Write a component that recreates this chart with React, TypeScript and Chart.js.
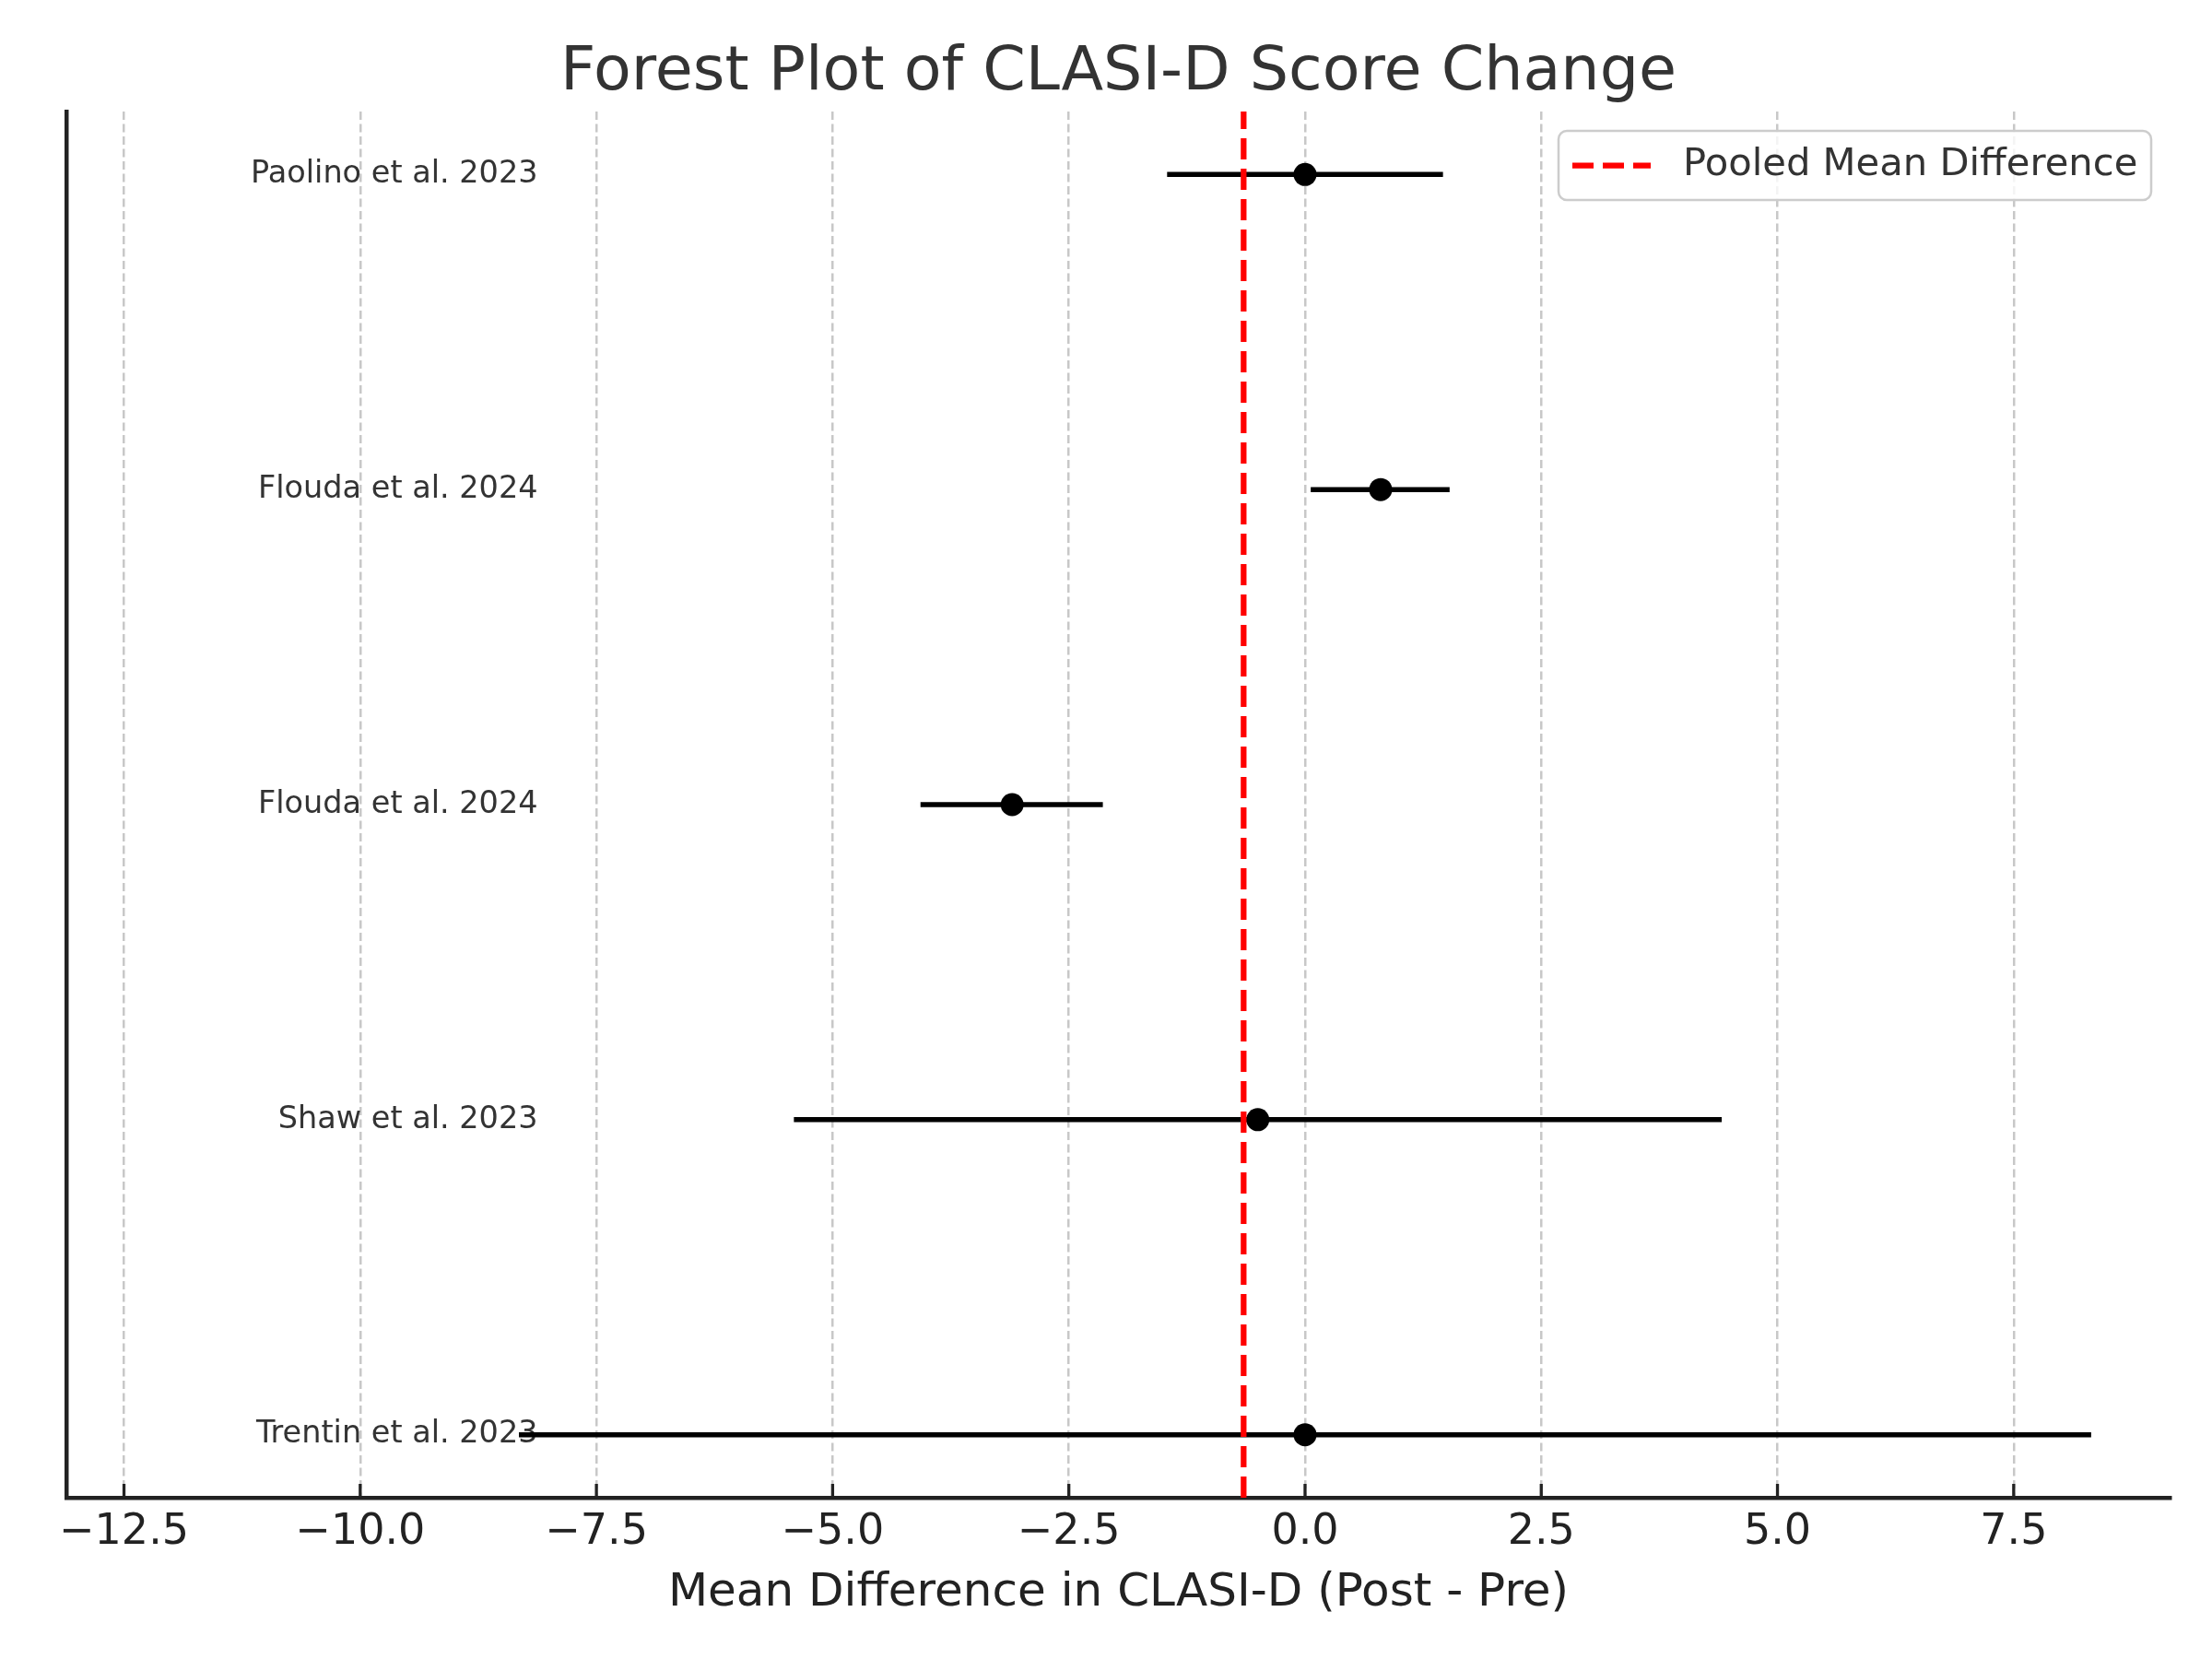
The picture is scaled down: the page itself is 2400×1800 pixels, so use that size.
import React, { useEffect, useRef } from "react";
import { Chart, registerables } from "chart.js";

Chart.register(...registerables);

// ---- data (top row first) ----
const studies = [
  "Paolino et al. 2023",
  "Flouda et al. 2024",
  "Flouda et al. 2024",
  "Shaw et al. 2023",
  "Trentin et al. 2023",
];
const meanDiff = [0.0, 0.8, -3.1, -0.5, 0.0];
const ciLower = [-1.46, 0.06, -4.07, -5.41, -8.32];
const ciUpper = [1.46, 1.53, -2.14, 4.41, 8.32];
const pooledMeanDifference = -0.65;

const chartTitle = "Forest Plot of CLASI-D Score Change";
const xAxisLabel = "Mean Difference in CLASI-D (Post - Pre)";
const legendLabel = "Pooled Mean Difference";

// axis limits
const xMin = -13.11;
const xMax = 9.16;
const xStep = 2.5;
const yMin = -0.2;
const yMax = 4.2;
const labelAnchorX = -8.12; // right edge of study labels (data units)

const rowY = studies.map((_, i) => studies.length - 1 - i);

const FONT = "'DejaVu Sans', 'Liberation Sans', sans-serif";
const RED = "#ff0000";

const fmtTick = (v: number) => {
  const s = Math.abs(v).toFixed(1);
  return v < 0 ? "\u2212" + s : s;
};

const decorPlugin = {
  id: "decor",
  beforeDatasetsDraw(chart: any) {
    const { ctx, chartArea, scales } = chart;
    const xs = scales.x;
    const ys = scales.y;
    ctx.save();
    // inward tick marks
    ctx.strokeStyle = "#222222";
    ctx.lineWidth = 3.3;
    xs.ticks.forEach((t: any) => {
      const px = xs.getPixelForValue(t.value);
      ctx.beginPath();
      ctx.moveTo(px, chartArea.bottom);
      ctx.lineTo(px, chartArea.bottom - 15);
      ctx.stroke();
    });
    // study labels
    ctx.font = `33.5px ${FONT}`;
    ctx.fillStyle = "#333333";
    ctx.textAlign = "right";
    ctx.textBaseline = "middle";
    const lx = xs.getPixelForValue(labelAnchorX);
    studies.forEach((s, i) => {
      ctx.fillText(s, lx, ys.getPixelForValue(rowY[i]));
    });
    ctx.restore();
  },
  afterDraw(chart: any) {
    const { ctx, chartArea } = chart;
    const cx = (chartArea.left + chartArea.right) / 2;
    ctx.save();
    // title
    ctx.font = `66.7px ${FONT}`;
    ctx.fillStyle = "#333333";
    ctx.textAlign = "center";
    ctx.textBaseline = "alphabetic";
    ctx.fillText(chartTitle, cx, chartArea.top - 24);
    // x label
    ctx.font = `50px ${FONT}`;
    ctx.fillStyle = "#222222";
    ctx.fillText(xAxisLabel, cx, chartArea.bottom + 117);

    // legend
    const bw = 643;
    const bh = 75;
    const bx = chartArea.right - 21 - bw;
    const by = chartArea.top + 21;
    ctx.beginPath();
    (ctx as any).roundRect(bx, by, bw, bh, 9);
    ctx.fillStyle = "rgba(255,255,255,0.8)";
    ctx.fill();
    ctx.strokeStyle = "#cccccc";
    ctx.lineWidth = 2.5;
    ctx.stroke();
    const ly = by + bh / 2;
    ctx.beginPath();
    ctx.setLineDash([23, 10]);
    ctx.strokeStyle = RED;
    ctx.lineWidth = 6.25;
    ctx.moveTo(bx + 15, ly);
    ctx.lineTo(bx + 100, ly);
    ctx.stroke();
    ctx.setLineDash([]);
    ctx.font = `41.7px ${FONT}`;
    ctx.fillStyle = "#333333";
    ctx.textAlign = "left";
    ctx.textBaseline = "middle";
    ctx.fillText(legendLabel, bx + 135, ly);
    ctx.restore();
  },
};

export default function App() {
  const ref = useRef<HTMLCanvasElement | null>(null);

  useEffect(() => {
    if (!ref.current) return;

    const ciDatasets = studies.map((s, i) => ({
      type: "line" as const,
      label: s,
      data: [
        { x: ciLower[i], y: rowY[i] },
        { x: ciUpper[i], y: rowY[i] },
      ],
      borderColor: "#000000",
      borderWidth: 5.5,
      borderCapStyle: "butt" as const,
      pointRadius: 0,
      showLine: true,
      fill: false,
      clip: 0,
    }));

    const chart = new Chart(ref.current, {
      type: "scatter",
      data: {
        datasets: [
          {
            type: "line",
            label: legendLabel,
            data: [
              { x: pooledMeanDifference, y: yMin },
              { x: pooledMeanDifference, y: yMax },
            ],
            borderColor: RED,
            borderWidth: 6.25,
            borderDash: [23, 10],
            borderCapStyle: "butt",
            pointRadius: 0,
            showLine: true,
            fill: false,
            clip: 0,
          } as any,
          {
            type: "scatter",
            label: "Mean",
            data: meanDiff.map((m, i) => ({ x: m, y: rowY[i] })),
            backgroundColor: "#000000",
            borderWidth: 0,
            pointRadius: 12.5,
            pointHoverRadius: 12.5,
          } as any,
          ...(ciDatasets as any[]),
        ],
      },
      options: {
        animation: false,
        responsive: false,
        devicePixelRatio: 1,
        events: [],
        layout: { padding: { left: 72, right: 45, top: 121, bottom: 0 } },
        plugins: {
          legend: { display: false },
          title: { display: false },
          tooltip: { enabled: false },
        },
        scales: {
          x: {
            type: "linear",
            min: xMin,
            max: xMax,
            afterFit: (scale: any) => {
              scale.height = 175;
            },
            ticks: {
              stepSize: xStep,
              includeBounds: false,
              callback: (v: any) => fmtTick(Number(v)),
              font: { family: FONT, size: 46 },
              color: "#222222",
              padding: 10,
              maxRotation: 0,
              autoSkip: false,
            },
            grid: {
              color: "#c8c8c8",
              lineWidth: 2.5,
              drawTicks: false,
            },
            border: {
              display: true,
              color: "#222222",
              width: 4.5,
              dash: [9, 4.5],
            },
          },
          y: {
            type: "linear",
            min: yMin,
            max: yMax,
            afterFit: (scale: any) => {
              scale.width = 0;
            },
            ticks: { display: false },
            grid: { display: false, drawTicks: false },
            border: { display: true, color: "#222222", width: 4.5 },
          },
        },
      } as any,
      plugins: [decorPlugin],
    });

    return () => chart.destroy();
  }, []);

  return (
    <div style={{ position: "absolute", left: 0, top: 0, width: 2400, height: 1800, background: "#ffffff" }}>
      <canvas ref={ref} width={2400} height={1800} style={{ width: 2400, height: 1800, display: "block" }} />
    </div>
  );
}
